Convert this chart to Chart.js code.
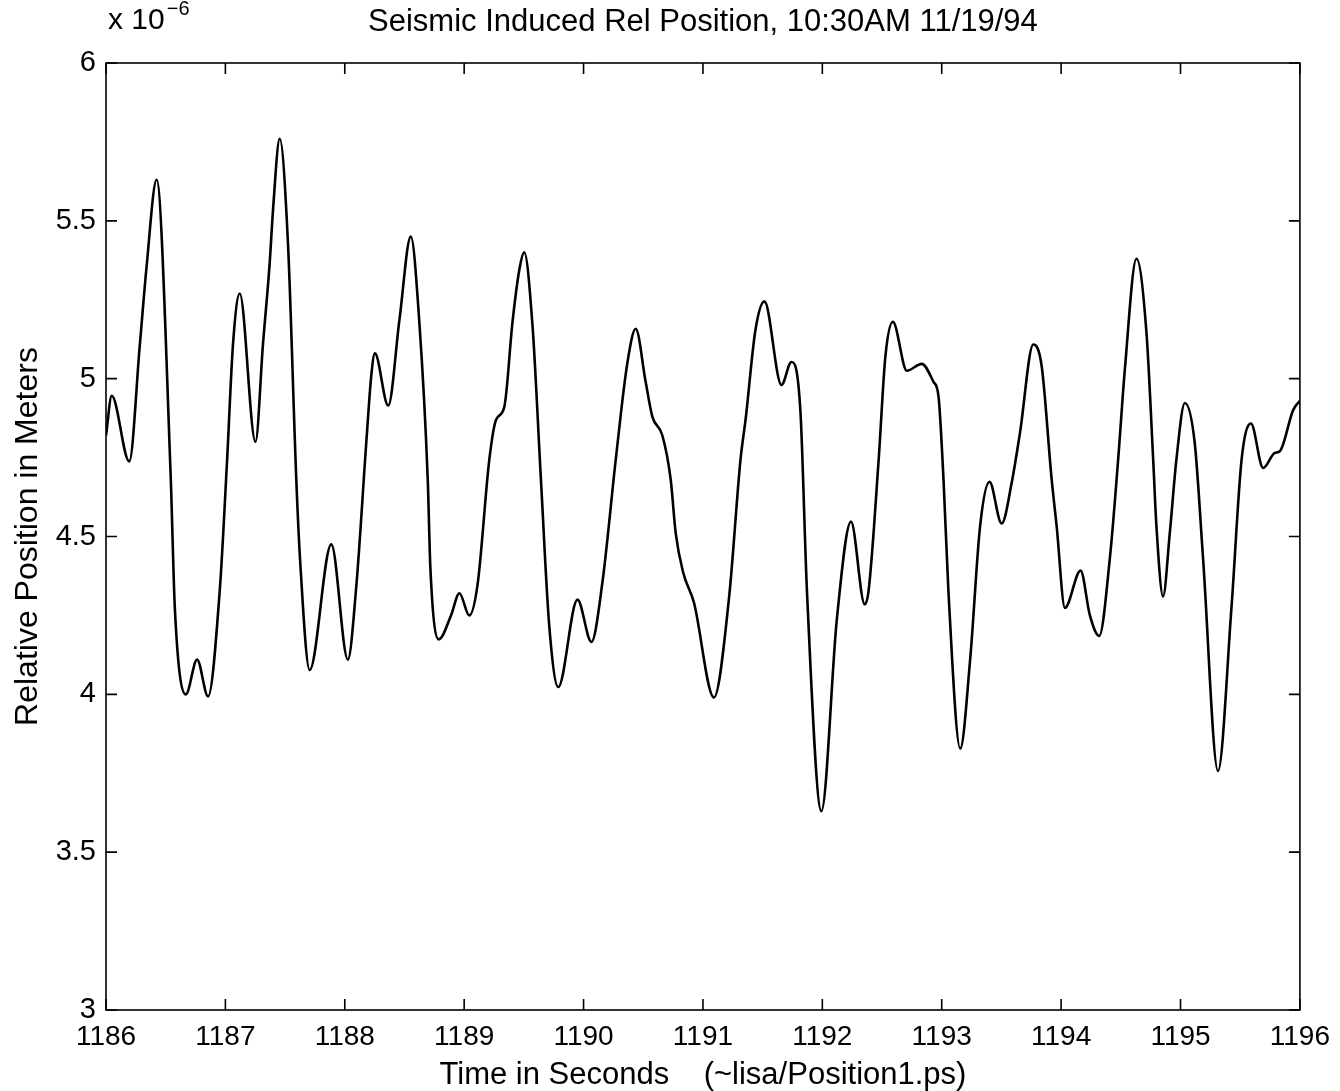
<!DOCTYPE html>
<html>
<head>
<meta charset="utf-8">
<script src="https://cdn.jsdelivr.net/npm/chart.js@4.4.1/dist/chart.umd.min.js"></script>
<style>
  html, body { margin: 0; padding: 0; background: #fff; }
  #wrap { width: 1340px; height: 1091px; }
</style>
</head>
<body>
<div id="wrap"><canvas id="chart" width="1340" height="1091"></canvas></div>
<script>
// time in seconds
const timeSec = [
    1186.000, 1186.048, 1186.195, 1186.284, 1186.340, 1186.424, 1186.541, 1186.577, 1186.669, 1186.763,
    1186.855, 1186.953, 1187.014, 1187.064, 1187.120, 1187.252, 1187.315, 1187.371, 1187.399, 1187.455,
    1187.524, 1187.594, 1187.625, 1187.706, 1187.887, 1188.026, 1188.096, 1188.180, 1188.222, 1188.252,
    1188.364, 1188.458, 1188.553, 1188.625, 1188.695, 1188.717, 1188.787, 1188.890, 1188.960, 1189.043,
    1189.113, 1189.211, 1189.267, 1189.336, 1189.405, 1189.462, 1189.503, 1189.573, 1189.643, 1189.712,
    1189.788, 1189.949, 1190.066, 1190.158, 1190.270, 1190.367, 1190.437, 1190.520, 1190.576, 1190.660,
    1190.730, 1190.772, 1190.835, 1190.925, 1191.092, 1191.217, 1191.315, 1191.357, 1191.440, 1191.515,
    1191.658, 1191.741, 1191.816, 1191.872, 1191.992, 1192.122, 1192.240, 1192.355, 1192.388, 1192.472,
    1192.528, 1192.591, 1192.708, 1192.833, 1192.931, 1192.973, 1193.015, 1193.057, 1193.155, 1193.238,
    1193.322, 1193.400, 1193.502, 1193.586, 1193.656, 1193.767, 1193.837, 1193.921, 1193.962, 1194.032,
    1194.163, 1194.241, 1194.319, 1194.408, 1194.478, 1194.534, 1194.631, 1194.715, 1194.771, 1194.798,
    1194.854, 1194.910, 1194.966, 1195.036, 1195.119, 1195.189, 1195.314, 1195.426, 1195.512, 1195.590,
    1195.692, 1195.790, 1195.832, 1195.943, 1196.000
];

// relative position, units of 1e-6 m
const positionMicro = [
    4.82, 4.946, 4.738, 5.11, 5.355, 5.63, 4.70, 4.27, 4.00, 4.11,
    3.993, 4.33, 4.74, 5.11, 5.27, 4.80, 5.11, 5.366, 5.535, 5.76,
    5.43, 4.68, 4.43, 4.077, 4.475, 4.11, 4.34, 4.797, 5.01, 5.08,
    4.915, 5.187, 5.45, 5.176, 4.68, 4.40, 4.174, 4.25, 4.32, 4.25,
    4.35, 4.745, 4.87, 4.91, 5.18, 5.345, 5.40, 5.165, 4.68, 4.22,
    4.023, 4.30, 4.166, 4.355, 4.745, 5.05, 5.158, 4.99, 4.88, 4.82,
    4.68, 4.51, 4.385, 4.29, 3.99, 4.30, 4.745, 4.87, 5.155, 5.245,
    4.98, 5.053, 4.90, 4.32, 3.63, 4.24, 4.547, 4.285, 4.33, 4.745,
    5.07, 5.18, 5.025, 5.047, 4.99, 4.944, 4.68, 4.32, 3.828, 4.11,
    4.535, 4.673, 4.541, 4.67, 4.83, 5.108, 5.04, 4.68, 4.535, 4.274,
    4.392, 4.25, 4.185, 4.43, 4.745, 5.03, 5.38, 5.145, 4.745, 4.535,
    4.31, 4.51, 4.745, 4.923, 4.797, 4.43, 3.757, 4.27, 4.745, 4.858,
    4.717, 4.765, 4.77, 4.90, 4.93
];

const xTickValues = [1186, 1187, 1188, 1189, 1190, 1191, 1192, 1193, 1194, 1195, 1196];
const yTickValues = [3, 3.5, 4, 4.5, 5, 5.5, 6];

const chartTitle = 'Seismic Induced Rel Position, 10:30AM 11/19/94';
const xTitle = 'Time in Seconds    (~lisa/Position1.ps)';
const yTitle = 'Relative Position in Meters';

const FONT = '"Liberation Sans", Arial, Helvetica, sans-serif';

// frame, inward ticks on all four sides, title and the exponent note
const matlabFrame = {
    id: 'matlabFrame',
    afterDraw(chart) {
        const ctx = chart.ctx;
        const a = chart.chartArea;
        const xs = chart.scales.x;
        const ys = chart.scales.y;
        const len = 11;

        ctx.save();
        ctx.strokeStyle = '#000';
        ctx.lineWidth = 1.6;
        ctx.strokeRect(a.left, a.top, a.right - a.left, a.bottom - a.top);

        ctx.beginPath();
        xs.ticks.forEach((t) => {
            const px = xs.getPixelForValue(t.value);
            ctx.moveTo(px, a.bottom); ctx.lineTo(px, a.bottom - len);
            ctx.moveTo(px, a.top); ctx.lineTo(px, a.top + len);
        });
        ys.ticks.forEach((t) => {
            const py = ys.getPixelForValue(t.value);
            ctx.moveTo(a.left, py); ctx.lineTo(a.left + len, py);
            ctx.moveTo(a.right, py); ctx.lineTo(a.right - len, py);
        });
        ctx.stroke();

        ctx.fillStyle = '#000';
        ctx.textBaseline = 'alphabetic';
        ctx.textAlign = 'center';
        ctx.font = '31px ' + FONT;
        ctx.fillText(chartTitle, (a.left + a.right) / 2, 31);

        ctx.textAlign = 'left';
        ctx.font = '30px ' + FONT;
        ctx.fillText('x 10', a.left + 2, 29);
        const w = ctx.measureText('x 10').width;
        ctx.font = '20px ' + FONT;
        ctx.fillText('\u22126', a.left + 4 + w, 15);
        ctx.restore();
    }
};

new Chart(document.getElementById('chart'), {
    type: 'line',
    data: {
        datasets: [{
            data: timeSec.map((t, i) => ({x: t, y: positionMicro[i]})),
            borderColor: '#000',
            borderWidth: 2.6,
            pointRadius: 0,
            fill: false,
            cubicInterpolationMode: 'monotone'
        }]
    },
    options: {
        responsive: false,
        animation: false,
        events: [],
        layout: {padding: {top: 63, right: 38, left: 0, bottom: 0}},
        plugins: {legend: {display: false}, tooltip: {enabled: false}},
        scales: {
            x: {
                type: 'linear',
                min: 1186,
                max: 1196,
                afterBuildTicks: (s) => { s.ticks = xTickValues.map((v) => ({value: v})); },
                afterFit: (s) => { s.height = 81; },
                grid: {display: false, drawTicks: false},
                border: {display: false},
                ticks: {
                    color: '#000',
                    font: {family: FONT, size: 28},
                    padding: 10,
                    maxRotation: 0,
                    callback: (v) => String(v)
                },
                title: {
                    display: true,
                    text: xTitle,
                    color: '#000',
                    font: {family: FONT, size: 31, lineHeight: 1},
                    padding: {top: 0, bottom: 0}
                }
            },
            y: {
                type: 'linear',
                min: 3,
                max: 6,
                afterBuildTicks: (s) => { s.ticks = yTickValues.map((v) => ({value: v})); },
                afterFit: (s) => { s.width = 106; },
                grid: {display: false, drawTicks: false},
                border: {display: false},
                ticks: {
                    color: '#000',
                    font: {family: FONT, size: 29},
                    padding: 10,
                    callback: (v) => String(v)
                },
                title: {
                    display: true,
                    text: yTitle,
                    color: '#000',
                    font: {family: FONT, size: 32, lineHeight: 1},
                    padding: {top: 12, bottom: 0}
                }
            }
        }
    },
    plugins: [matlabFrame]
});
</script>
</body>
</html>
